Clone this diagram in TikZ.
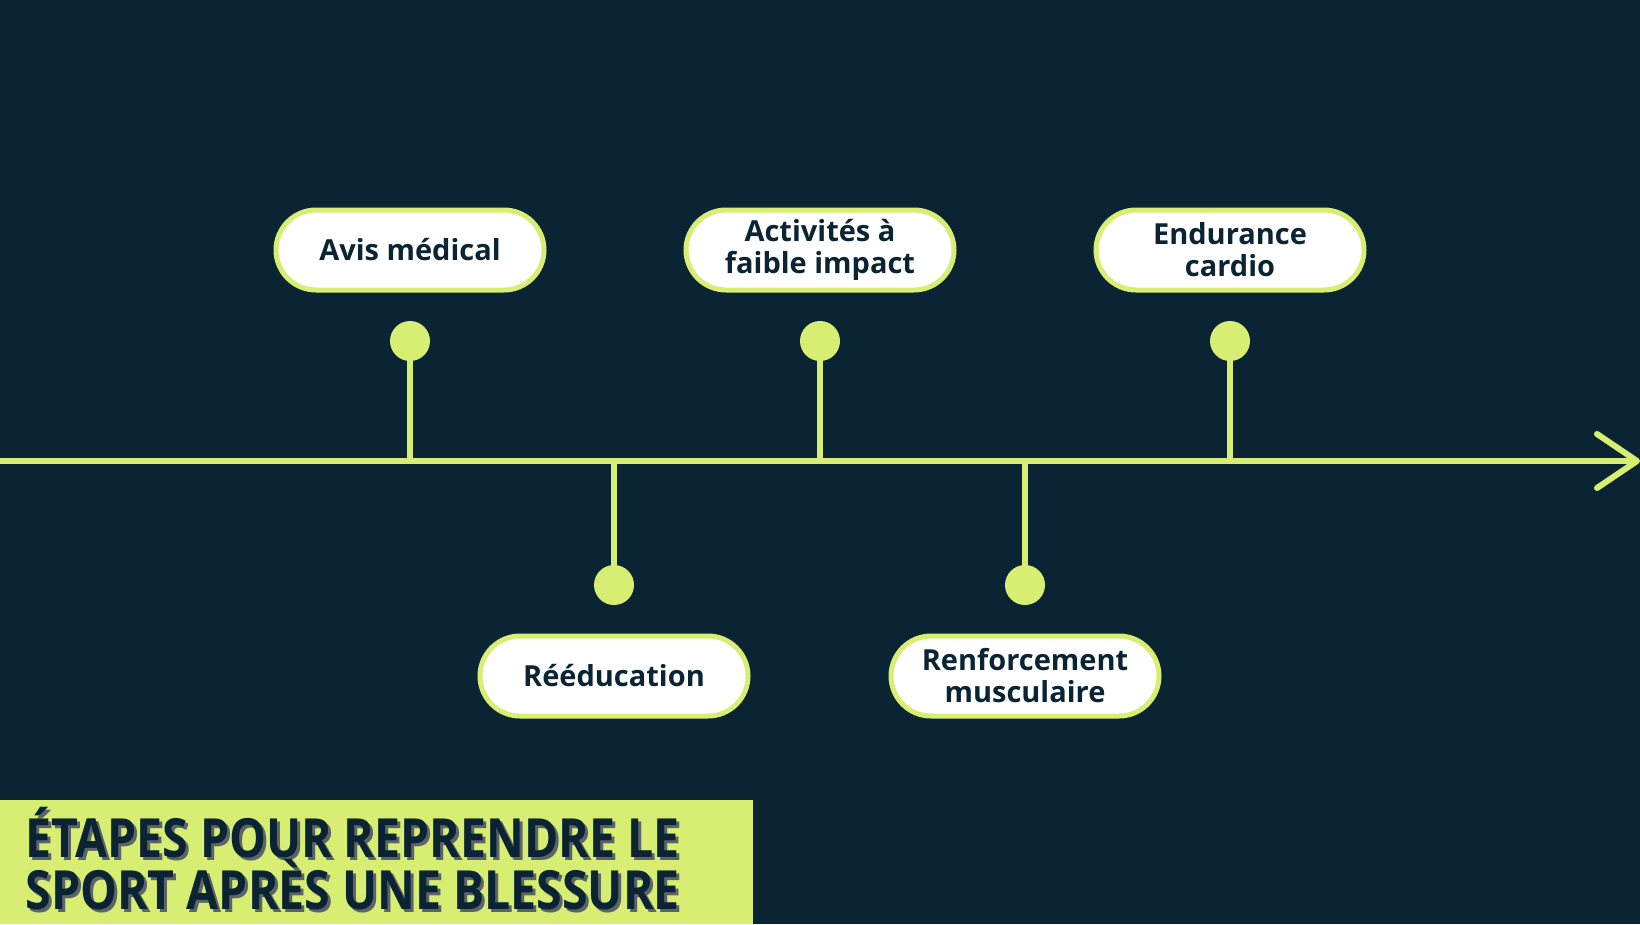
\documentclass[tikz,border=0pt]{standalone}
\usepackage{fontspec}
\setmainfont{Open Sans}
\definecolor{bg}{HTML}{0B2434}
\definecolor{lime}{HTML}{D8EE72}
\begin{document}
\begin{tikzpicture}[x=1pt,y=-1pt,
  box/.style={draw=lime,line width=5pt,fill=white,rounded corners=40pt,minimum width=268pt,minimum height=80pt,align=center,font=\fontsize{29}{32}\selectfont\bfseries,text=bg},
  dot/.style={circle,fill=lime,minimum size=40pt,inner sep=0pt},
  stem/.style={draw=lime,line width=6pt}]
\fill[bg] (0,0) rectangle (1640,924);
\useasboundingbox (0,0) rectangle (1640,924);
\coordinate (s) at (0,461);
\coordinate (e) at (1637,461);
\draw[stem] (s) -- (e);
\draw[stem,line cap=round,line join=round] (1597,434) -- (e) -- (1597,488);
\foreach \n/\x/\y/\t in {a/410/250/{Avis médical},b/614/676/{Rééducation},c/820/250/{Activités à\\faible impact},d/1025/676/{Renforcement\\musculaire},f/1230/250/{Endurance\\cardio}}{
  \node[box] (\n) at (\x,\y) {\t};
}
\foreach \n/\x/\y in {a/410/341,c/820/341,f/1230/341,b/614/585,d/1025/585}{
  \node[dot] (d\n) at (\x,\y) {};
  \coordinate (p\n) at (\x,461);
  \draw[stem] (d\n.center) -- (p\n);
}
\fill[lime] (0,800) rectangle (753,924);
\node[anchor=west,align=left,text=gray!70!bg,font=\fontsize{54}{50}\selectfont\bfseries] (tsh) at (25,862) {\scalebox{0.86}[1]{ÉTAPES POUR REPRENDRE LE}\\\scalebox{0.86}[1]{SPORT APRÈS UNE BLESSURE}};
\node[anchor=west,align=left,text=bg,font=\fontsize{54}{50}\selectfont\bfseries] (title) at (22,859) {\scalebox{0.86}[1]{ÉTAPES POUR REPRENDRE LE}\\\scalebox{0.86}[1]{SPORT APRÈS UNE BLESSURE}};
\end{tikzpicture}
\end{document}
